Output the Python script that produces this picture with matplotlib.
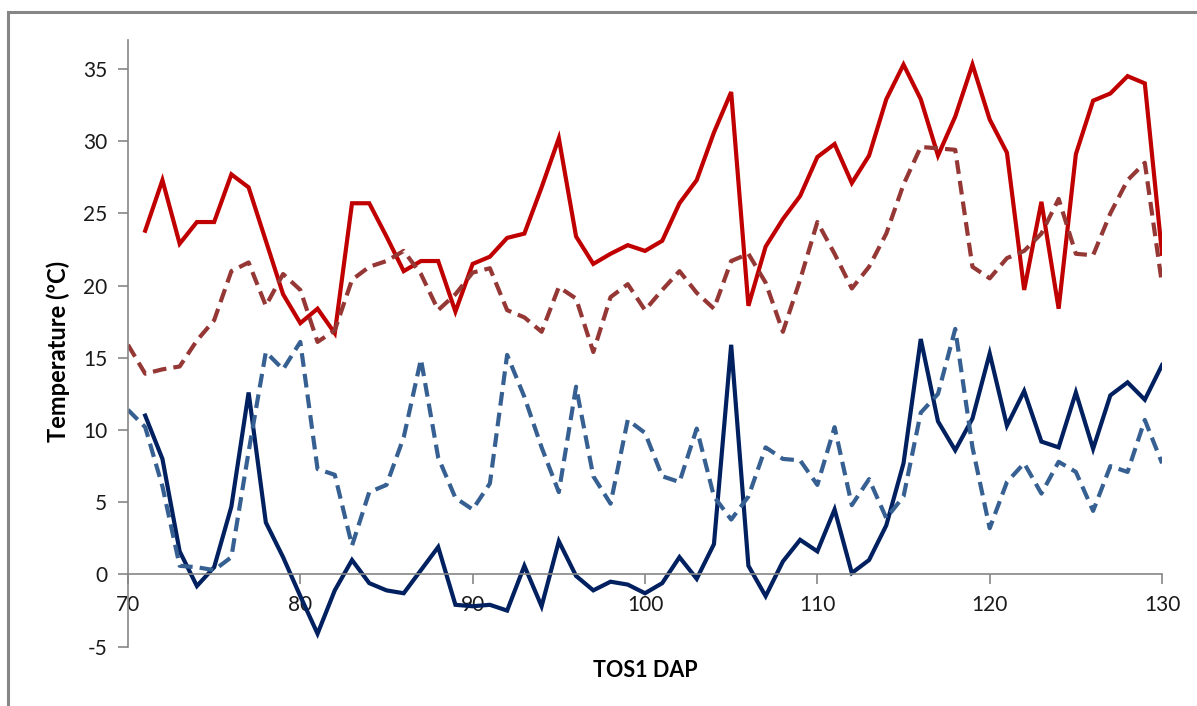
import matplotlib.pyplot as plt
import matplotlib.patches as patches
import numpy as np

plt.rcParams['font.family'] = ['Lato', 'DejaVu Sans']
plt.rcParams['axes.unicode_minus'] = False

# daily temperatures (ºC) by days after planting
dap = np.arange(70, 131)

max_tos1 = [np.nan, 23.8, 27.3, 22.9, 24.4, 24.4, 27.7, 26.8, 23.1, 19.4,
            17.4, 18.4, 16.7, 25.7, 25.7, 23.4, 21.0, 21.7, 21.7, 18.2,
            21.5, 22.0, 23.3, 23.6, 26.8, 30.2, 23.4, 21.5, 22.2, 22.8,
            22.4, 23.1, 25.7, 27.3, 30.6, 33.4, 18.6, 22.7, 24.6, 26.2,
            28.9, 29.8, 27.1, 29.0, 32.9, 35.3, 32.9, 29.0, 31.7, 35.3,
            31.5, 29.2, 19.7, 25.8, 18.4, 29.1, 32.8, 33.3, 34.5, 34.0,
            22.2]
max_ref = [15.9, 13.9, 14.2, 14.4, 16.2, 17.6, 21.0, 21.6, 18.6, 20.8,
           19.7, 16.1, 16.9, 20.4, 21.3, 21.7, 22.4, 20.8, 18.3, 19.4,
           20.9, 21.2, 18.3, 17.8, 16.8, 19.9, 19.1, 15.4, 19.2, 20.1,
           18.3, 19.7, 21.0, 19.5, 18.4, 21.7, 22.2, 20.2, 16.8, 20.4,
           24.4, 22.2, 19.8, 21.3, 23.6, 27.0, 29.6, 29.5, 29.4, 21.3,
           20.5, 21.9, 22.4, 23.6, 26.0, 22.2, 22.1, 25.0, 27.3, 28.5,
           20.1]
min_tos1 = [np.nan, 11.0, 8.0, 1.6, -0.8, 0.5, 4.7, 12.6, 3.6, 1.2,
            -1.5, -4.1, -1.1, 1.0, -0.6, -1.1, -1.3, 0.3, 1.9, -2.1,
            -2.2, -2.1, -2.5, 0.6, -2.2, 2.3, -0.1, -1.1, -0.5, -0.7,
            -1.3, -0.6, 1.2, -0.3, 2.1, 15.9, 0.6, -1.5, 0.9, 2.4,
            1.6, 4.5, 0.1, 1.0, 3.4, 7.7, 16.3, 10.6, 8.6, 10.8,
            15.3, 10.3, 12.7, 9.2, 8.8, 12.6, 8.7, 12.4, 13.3, 12.1,
            14.5]
min_ref = [11.4, 10.2, 6.1, 0.6, 0.5, 0.3, 1.2, 8.5, 15.4, 14.2,
           16.1, 7.3, 6.9, 2.0, 5.7, 6.2, 9.5, 14.9, 8.1, 5.3,
           4.5, 6.3, 15.2, 12.3, 8.8, 5.7, 13.0, 6.8, 4.9, 10.7,
           9.8, 6.8, 6.4, 10.1, 5.4, 3.8, 5.4, 8.8, 8.0, 7.9,
           6.2, 10.2, 4.8, 6.6, 3.9, 5.4, 11.2, 12.5, 17.0, 8.8,
           3.2, 6.4, 7.7, 5.6, 7.8, 7.1, 4.4, 7.5, 7.1, 10.7,
           7.7]

x_ticks = [70, 80, 90, 100, 110, 120, 130]
y_ticks = [-5, 0, 5, 10, 15, 20, 25, 30, 35]

fig = plt.figure(figsize=(11.97, 7.06), dpi=100)
ax = fig.add_axes([0.1069, 0.0840, 0.8639, 0.8593])

lw = 3.0
ax.plot(dap, max_tos1, color='#C00000', lw=lw, solid_joinstyle='miter')
ax.plot(dap, max_ref, color='#953735', lw=lw, dashes=(3.3, 1.7))
ax.plot(dap, min_tos1, color='#002060', lw=lw, solid_joinstyle='miter')
ax.plot(dap, min_ref, color='#376092', lw=lw, dashes=(3.3, 1.7))

ax.set_xlim(70, 130)
ax.set_ylim(-5, 37)
ax.set_xticks(x_ticks)
ax.set_yticks(y_ticks)

# x axis crosses at zero like the spreadsheet default
ax.spines['bottom'].set_position(('data', 0))
ax.spines['top'].set_visible(False)
ax.spines['right'].set_visible(False)
for s in ('left', 'bottom'):
    ax.spines[s].set_color('#868686')
    ax.spines[s].set_linewidth(1.2)

ax.tick_params(axis='both', direction='out', length=7, width=1.2,
               color='#868686', labelsize=15, labelcolor='#1a1a1a')
ax.tick_params(axis='y', pad=8)
ax.tick_params(axis='x', pad=8)

ax.set_xlabel('TOS1 DAP', fontsize=15.5, fontweight='bold')
ax.set_ylabel('Temperature (ºC)', fontsize=17, fontweight='bold')
ax.xaxis.set_label_coords(0.5, -0.022)
ax.yaxis.set_label_coords(-0.056, 0.486)

# outer chart frame
frame = patches.Rectangle((0.0067, -0.1), 1.2, 0.1 + 0.983, transform=fig.transFigure,
                          fill=False, edgecolor='#868686', lw=2.2, clip_on=False)
fig.patches.append(frame)

fig.savefig('out.png', dpi=100)
